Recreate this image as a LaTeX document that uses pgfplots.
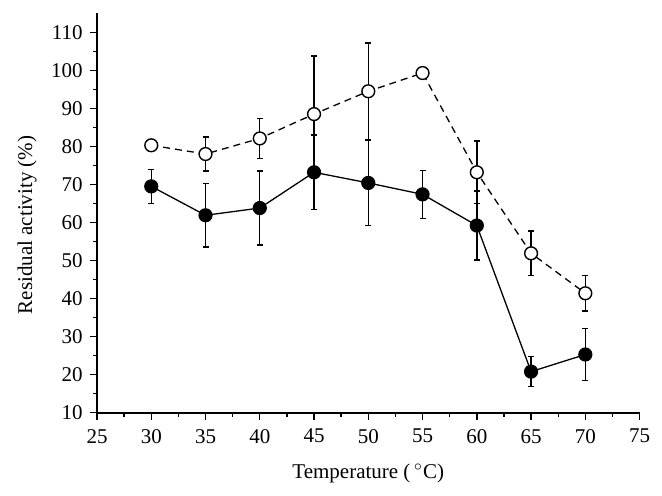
\documentclass[border=0pt]{standalone}
\usepackage{fontspec}
\setmainfont{Liberation Serif}
\usepackage{pgfplots}
\pgfplotsset{compat=1.18}
\begin{document}
\begin{tikzpicture}[font=\fontsize{10.5}{12.5}\selectfont]
\path[use as bounding box] (-48.5pt,-41.65pt) rectangle (282.5pt,206.35pt);
\begin{axis}[
 at={(0,0)}, anchor=south west,
 scale only axis, width=271.3pt, height=199.7pt,
 xmin=25, xmax=75, ymin=10, ymax=115,
 axis lines*=left,
 xtick={25,30,...,75}, ytick={10,20,...,110},
 minor x tick num=1, minor y tick num=1,
 tick align=outside,
 major tick length=3.7pt, minor tick length=2pt,
 tick style={black, line width=0.7pt},
 axis line style={line width=0.9pt},
 /pgf/number format/assume math mode=true,
 ticklabel style={font=\fontsize{10.5}{12.5}\selectfont},
 xticklabel style={yshift=-1pt},
 xlabel={Temperature (\,$^{\circ}$C)},
 ylabel={Residual activity (\%)},
 xlabel style={at={(axis description cs:0.5,0)}, anchor=base, yshift=-32.7pt},
 ylabel style={at={(axis description cs:0,0.47)}, anchor=center, yshift=35pt},
 clip=false,
]
\addplot[black, line width=0.65pt, dash pattern=on 3.5pt off 2.5pt,
  mark=*, mark size=3.2pt, mark options={solid, fill=white, line width=0.7pt},
  error bars/.cd, y dir=both, y explicit,
  error bar style={solid, line width=0.7pt},
  error mark options={rotate=90, mark size=1.5pt, solid, line width=0.7pt}]
 table[x=x, y=y, y error=e] {
x y e
30 80.3 0.6
35 78.0 4.5
40 82.1 5.2
45 88.5 15.3
50 94.5 12.7
55 99.3 0.8
60 73.2 8.2
65 51.9 5.9
70 41.4 4.7
};
\addplot[black, line width=0.65pt, solid,
  mark=*, mark size=3.2pt, mark options={solid, fill=black, line width=0.7pt},
  error bars/.cd, y dir=both, y explicit,
  error bar style={solid, line width=0.7pt},
  error mark options={rotate=90, mark size=1.5pt, solid, line width=0.7pt}]
 table[x=x, y=y, y error=e] {
x y e
30 69.5 4.5
35 61.9 8.3
40 63.8 9.7
45 73.2 9.8
50 70.4 11.2
55 67.4 6.3
60 59.2 9.1
65 20.8 3.9
70 25.3 6.8
};
\end{axis}
\end{tikzpicture}
\end{document}
